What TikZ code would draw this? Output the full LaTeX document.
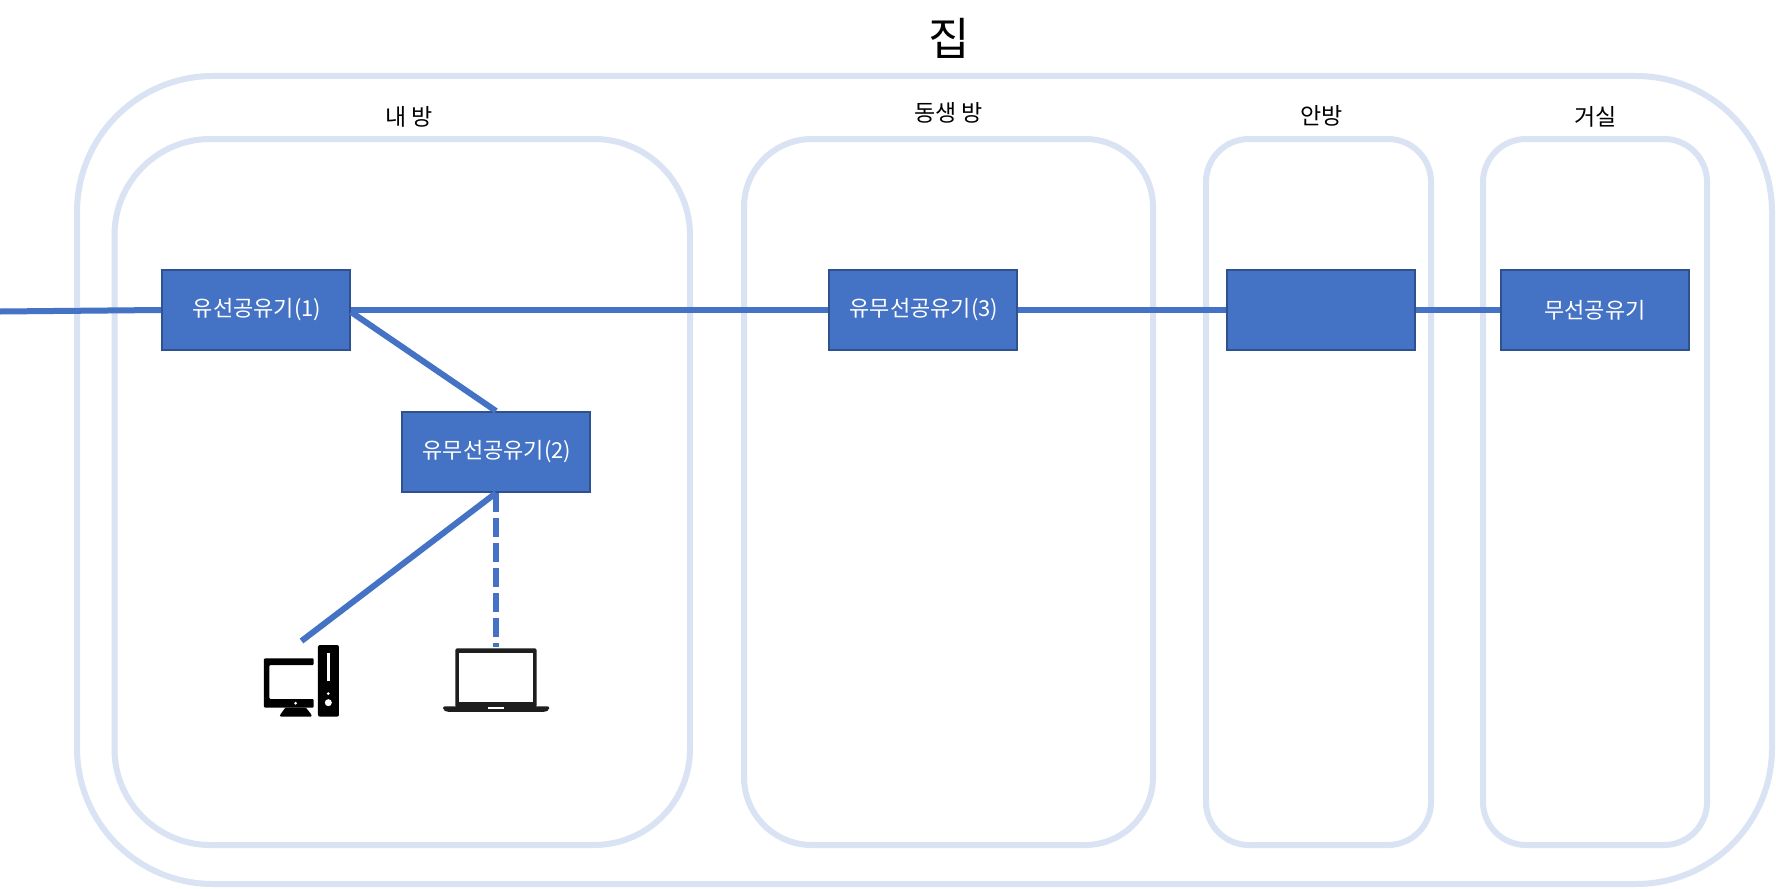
\documentclass[tikz,border=0pt]{standalone}
\usepackage{fontspec}
\setmainfont{Noto Sans CJK KR}
\definecolor{roomline}{HTML}{DAE3F3}
\definecolor{netblue}{HTML}{4472C4}
\definecolor{netedge}{HTML}{2F528F}
\definecolor{lapblack}{HTML}{1E1E1E}
\tikzset{
  outerroom/.style={draw=roomline,line width=6pt,rounded corners=136pt,fill=none},
  room/.style={draw=roomline,line width=6pt,fill=none},
  router/.style={draw=netedge,line width=2pt,fill=netblue,minimum width=188pt,minimum height=80pt,inner sep=0pt,text=white,font=\fontsize{22}{26}\selectfont},
  link/.style={draw=netblue,line width=6pt},
  roomlabel/.style={font=\fontsize{23}{27}\selectfont,inner sep=0pt,text=black},
}
\begin{document}
\begin{tikzpicture}[x=1pt,y=-1pt]
\useasboundingbox (0,0) rectangle (1776,888);
\fill[white] (0,0) rectangle (1776,888);
% rooms
\draw[outerroom] (77,76) rectangle (1772,884);
\draw[room,rounded corners=96pt] (114.5,139) rectangle (690,845);
\draw[room,rounded corners=68pt] (744,139) rectangle (1153,845);
\draw[room,rounded corners=43pt] (1206,139) rectangle (1431,845);
\draw[room,rounded corners=43pt] (1483,139) rectangle (1707,845);
% labels
\node[font=\fontsize{45}{50}\selectfont,inner sep=0pt] (title) at (949.5,38) {집};
\node[roomlabel] (l1) at (409,116.5) {내 방};
\node[roomlabel] (l2) at (948.5,113) {동생 방};
\node[roomlabel] (l3) at (1321.5,115.5) {안방};
\node[roomlabel] (l4) at (1595.5,116.5) {거실};
% routers
\node[router] (r1) at (256,310) {\hspace*{2pt}\raisebox{-2.5pt}{유선공유기(1)}};
\node[router] (r2) at (496,452) {\hspace*{2pt}\raisebox{-2.5pt}{유무선공유기(2)}};
\node[router] (r3) at (923,310) {\hspace*{2pt}\raisebox{-2.5pt}{유무선공유기(3)}};
\node[router] (r4) at (1321,310) {};
\node[router] (r5) at (1595,310) {\raisebox{-1.5pt}{무선공유기}};
% free ends
\coordinate (wan) at (0,311.5);
\coordinate (pcend) at (301.5,641);
\coordinate (lapend) at (496,646.7);
% links
\draw[link] (wan) -- (r1.west);
\draw[link] (r1.east) -- (r3.west);
\draw[link] (r1.east) ++(0,2) -- (r2.north);
\draw[link] (r3.east) -- (r4.west);
\draw[link] (r4.east) -- (r5.west);
\draw[link] (r2.south) -- (pcend);
\draw[link,dash pattern=on 19pt off 6pt] (r2.south) -- (lapend);
% desktop icon
\begin{scope}[shift={(220,620)},x=0.3333pt,y=-0.3333pt]
\fill[black,rounded corners=1pt] (132,115) -- (281,115) -- (281,135) -- (148,135) -- (148,237) -- (281,237) -- (281,263) -- (132,263) -- cycle;
\fill[black,rounded corners=1pt] (196,263) -- (258,263) -- (275,285) -- (275,290) -- (180,290) -- (180,285) -- cycle;
\fill[white] (227,250) circle (4.5);
\fill[black,rounded corners=2pt] (294,75) rectangle (357,290);
\fill[white] (320,100) rectangle (331,182);
\fill[white] (325,221) circle (4.5);
\fill[white] (325,248) circle (10.5);
\end{scope}
% laptop icon
\begin{scope}[shift={(220,620)},x=0.3333pt,y=-0.3333pt]
\fill[lapblack,rounded corners=2pt] (706,262) -- (706,85) -- (950,85) -- (950,262) -- cycle;
\fill[white] (718,99) rectangle (938,245);
\fill[lapblack,rounded corners=2pt] (669,259) -- (988,259) -- (988,270) -- (975,276) -- (682,276) -- (669,270) -- cycle;
\fill[white] (803,260) rectangle (852,266);
\end{scope}
\end{tikzpicture}
\end{document}
